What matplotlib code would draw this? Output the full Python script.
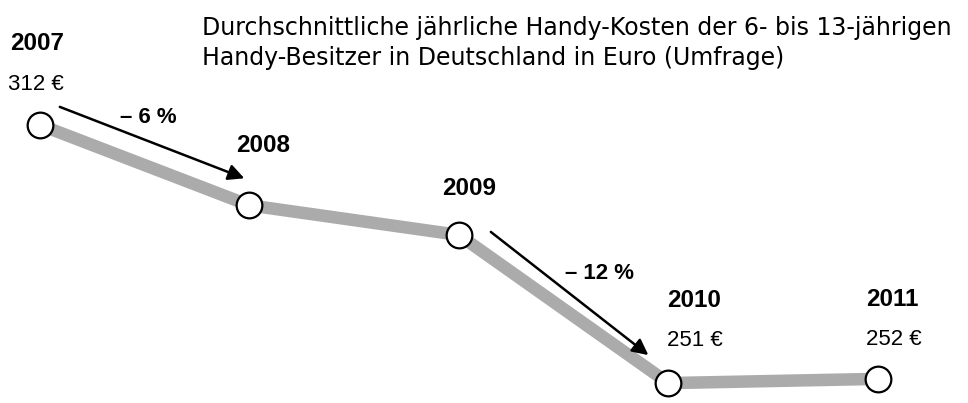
import matplotlib
matplotlib.use("Agg")
import matplotlib.pyplot as plt
from matplotlib.transforms import offset_copy

# data
years = [2007, 2008, 2009, 2010, 2011]
costs = [312, 293, 286, 251, 252]  # 2008/2009 not printed
value_labels = ["312 €", None, None, "251 €", "252 €"]
changes = [(2007, 2008, "– 6 %"), (2009, 2010, "– 12 %")]
title = ("Durchschnittliche jährliche Handy-Kosten der 6- bis 13-jährigen\n"
         "Handy-Besitzer in Deutschland in Euro (Umfrage)")

fig = plt.figure(figsize=(9.68, 4.03), dpi=100)
ax = fig.add_axes([0, 0, 1, 1])
ax.set_xlim(2006.81, 2011.43)
ax.set_ylim(246.3, 341.5)
ax.axis("off")

# thick grey band with round markers on top
ax.plot(years, costs, color="#ababab", lw=9, solid_capstyle="butt", zorder=1)
ax.plot(years, costs, ls="none", marker="o", ms=18.5, mfc="white",
        mec="black", mew=1.6, zorder=3)

# label offsets in pixels (x right, y up) relative to each point
year_off = [(-30, 81), (-13, 60), (-17, 46), (-1, 83), (-12, 79)]
val_off = [(-32, 40), None, None, (-1, 43), (-12, 39)]

for i, (yr, c) in enumerate(zip(years, costs)):
    dx, dy = year_off[i]
    ax.annotate(str(yr), (yr, c), xytext=(dx, dy), textcoords="offset pixels",
                fontsize=17.5, fontweight="bold", family="Liberation Sans",
                ha="left", va="center")
    if value_labels[i]:
        dx, dy = val_off[i]
        ax.annotate(value_labels[i], (yr, c), xytext=(dx, dy),
                    textcoords="offset pixels", fontsize=16,
                    family="Liberation Sans", ha="left", va="center")

# arrows with percentage change
idx = {y: k for k, y in enumerate(years)}
arrow_geo = [((20, 18), (-5, 27), (80, 7)), ((32, 3), (-20, 28), (106, -39))]
for (y0, y1, txt), (s, e, t) in zip(changes, arrow_geo):
    c0, c1 = costs[idx[y0]], costs[idx[y1]]
    tr_start = offset_copy(ax.transData, fig, x=s[0], y=s[1], units="dots")
    tr_end = offset_copy(ax.transData, fig, x=e[0], y=e[1], units="dots")
    ax.annotate("", xy=(y1, c1), xycoords=tr_end, xytext=(y0, c0),
                textcoords=tr_start,
                arrowprops=dict(arrowstyle="-|>", color="black", lw=1.8,
                                mutation_scale=24, shrinkA=0, shrinkB=0))
    ax.annotate(txt, (y0, c0), xytext=t, textcoords="offset pixels",
                fontsize=16, fontweight="bold", family="Liberation Sans",
                ha="left", va="center")

fig.text(202 / 968, 1 - 43 / 403, title, fontsize=17, family="DejaVu Sans",
         ha="left", va="center", linespacing=1.3)

fig.savefig("out.png", dpi=100, facecolor="white")
